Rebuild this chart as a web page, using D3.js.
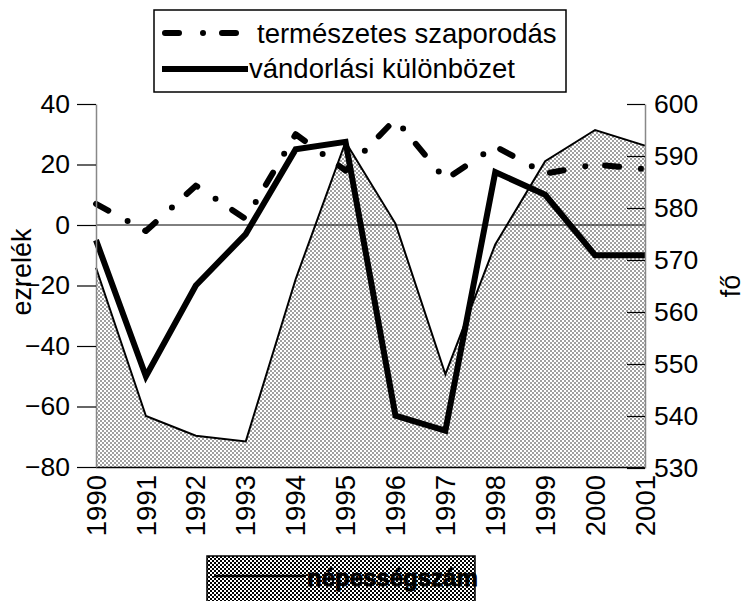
<!DOCTYPE html>
<meta charset='utf-8'>
<script src='https://d3js.org/d3.v7.min.js'></script>
<style>
body { margin: 0; background: #fff; }
text { font-family: 'Liberation Sans', Arial, sans-serif; }
</style>
<body>
<script>
var years = ['1990', '1991', '1992', '1993', '1994', '1995', '1996', '1997', '1998', '1999', '2000', '2001'];
var termeszetes = [7, -2, 13, 2, 30, 18, 35, 15, 26, 17, 20, 18.5];
var vandorlasi = [-5, -50, -20, -3, 25, 27.5, -63, -68, 17.5, 10, -10, -10];
var nepesseg = [568.5, 540, 536.2, 535.1, 566.3, 592.7, 577, 548, 573, 589, 595, 592];
var leftTicks = [-80, -60, -40, -20, 0, 20, 40];
var rightTicks = [530, 540, 550, 560, 570, 580, 590, 600];

var width = 748,
    height = 601;

var svg = d3.select('body').append('svg').attr('width', width).attr('height', height);

var defs = svg.append('defs');
var pat = defs.append('pattern').attr('id', 'chk').attr('width', 4).attr('height', 4)
    .attr('patternUnits', 'userSpaceOnUse');
pat.append('rect').attr('width', 4).attr('height', 4).attr('fill', '#fff');
pat.append('rect').attr('width', 2).attr('height', 2).attr('fill', '#a0a0a0');
pat.append('rect').attr('x', 2).attr('y', 2).attr('width', 2).attr('height', 2).attr('fill', '#a0a0a0');

var pat2 = defs.append('pattern').attr('id', 'chk2').attr('width', 4).attr('height', 4)
    .attr('patternUnits', 'userSpaceOnUse');
pat2.append('rect').attr('width', 4).attr('height', 4).attr('fill', '#fff');
pat2.append('rect').attr('width', 2).attr('height', 2).attr('fill', '#000');
pat2.append('rect').attr('x', 2).attr('y', 2).attr('width', 2).attr('height', 2).attr('fill', '#000');

var x = d3.scalePoint().domain(years).range([96, 645]);
var yL = d3.scaleLinear().domain([-80, 40]).range([467, 104]);
var yR = d3.scaleLinear().domain([530, 600]).range([468, 104]);

// population area (right axis)
var area = d3.area()
    .x(function(d, i) { return x(years[i]); })
    .y0(yR(530))
    .y1(function(d) { return yR(d); });
var popLine = d3.line()
    .x(function(d, i) { return x(years[i]); })
    .y(function(d) { return yR(d); });

svg.append('path').datum(nepesseg).attr('d', area).attr('fill', 'url(#chk)');
svg.append('path').datum(nepesseg).attr('d', popLine)
    .attr('fill', 'none').attr('stroke', '#000').attr('stroke-width', 2);

// zero line
svg.append('line').attr('x1', 96).attr('x2', 645).attr('y1', yL(0)).attr('y2', yL(0))
    .attr('stroke', '#000').attr('stroke-width', 1);

// bottom axis line
svg.append('line').attr('x1', 96).attr('x2', 645).attr('y1', 467.5).attr('y2', 467.5)
    .attr('stroke', '#000').attr('stroke-width', 1.5);

var lineL = d3.line()
    .x(function(d, i) { return x(years[i]); })
    .y(function(d) { return yL(d); });

svg.append('path').datum(termeszetes).attr('d', lineL)
    .attr('fill', 'none').attr('stroke', '#000').attr('stroke-width', 6)
    .attr('stroke-linecap', 'round').attr('stroke-linejoin', 'round')
    .attr('stroke-dasharray', '14,22,0,20');

svg.append('path').datum(vandorlasi).attr('d', lineL)
    .attr('fill', 'none').attr('stroke', '#000').attr('stroke-width', 6)
    .attr('stroke-linejoin', 'miter');

// left axis
var gl = svg.append('g').attr('transform', 'translate(96,0)');
gl.call(d3.axisLeft(yL).tickValues(d3.range(-80, 41, 10)).tickSize(9).tickFormat(''));
gl.call(d3.axisLeft(yL).tickValues(leftTicks).tickSize(19).tickSizeOuter(0).tickPadding(7));
gl.select('.domain').attr('stroke', '#888').attr('stroke-width', 1.5);
gl.selectAll('.tick line').attr('stroke', '#000').attr('stroke-width', 1.2);
gl.selectAll('text').attr('font-size', 26.5).attr('fill', '#000')
    .attr('font-family', "'Liberation Sans', Arial, sans-serif");

// right axis
var gr = svg.append('g').attr('transform', 'translate(645,0)');
gr.call(d3.axisRight(yR).tickValues(d3.range(530, 601, 5)).tickSizeInner(-9).tickSizeOuter(0).tickFormat(''));
gr.call(d3.axisRight(yR).tickValues(rightTicks).tickSizeInner(-18).tickSizeOuter(0).tickPadding(9));
gr.select('.domain').attr('stroke', '#888').attr('stroke-width', 1.5);
gr.selectAll('.tick line').attr('stroke', '#000').attr('stroke-width', 1.2);
gr.selectAll('text').attr('font-size', 26.5).attr('fill', '#000')
    .attr('font-family', "'Liberation Sans', Arial, sans-serif");

// year labels
svg.append('g').selectAll('text').data(years).enter().append('text')
    .attr('transform', function(d) { return 'translate(' + x(d) + ',475) rotate(-90)'; })
    .attr('dy', '0.35em')
    .attr('text-anchor', 'end')
    .attr('font-size', 27.5)
    .text(function(d) { return d; });

// axis titles
svg.append('text').attr('transform', 'translate(31,272) rotate(-90)')
    .attr('text-anchor', 'middle').attr('font-size', 27).text('ezrelék');
svg.append('text').attr('transform', 'translate(740,286) rotate(-90)')
    .attr('text-anchor', 'middle').attr('font-size', 27).text('fő');

// top legend
var lg = svg.append('g');
lg.append('rect').attr('x', 154).attr('y', 10).attr('width', 412).attr('height', 82)
    .attr('fill', '#fff').attr('stroke', '#000').attr('stroke-width', 1.5);
lg.append('line').attr('x1', 165).attr('x2', 240).attr('y1', 33).attr('y2', 33)
    .attr('stroke', '#000').attr('stroke-width', 6).attr('stroke-linecap', 'round')
    .attr('stroke-dasharray', '14,24,0,19');
lg.append('line').attr('x1', 162).attr('x2', 248).attr('y1', 69).attr('y2', 69)
    .attr('stroke', '#000').attr('stroke-width', 6);
lg.append('text').attr('x', 257).attr('y', 43).attr('font-size', 27.5).text('természetes szaporodás');
lg.append('text').attr('x', 249).attr('y', 78).attr('font-size', 27.5).text('vándorlási különbözet');

// bottom legend
var lb = svg.append('g');
lb.append('rect').attr('x', 207).attr('y', 556).attr('width', 268).attr('height', 60)
    .attr('fill', 'url(#chk2)').attr('stroke', '#000').attr('stroke-width', 1.5);
lb.append('line').attr('x1', 214).attr('x2', 306).attr('y1', 576).attr('y2', 576)
    .attr('stroke', '#000').attr('stroke-width', 2.5);
lb.append('text').attr('x', 307).attr('y', 586).attr('font-size', 24).attr('font-weight', 'bold')
    .attr('stroke', '#000').attr('stroke-width', 0.8)
    .text('népességszám');
</script>
